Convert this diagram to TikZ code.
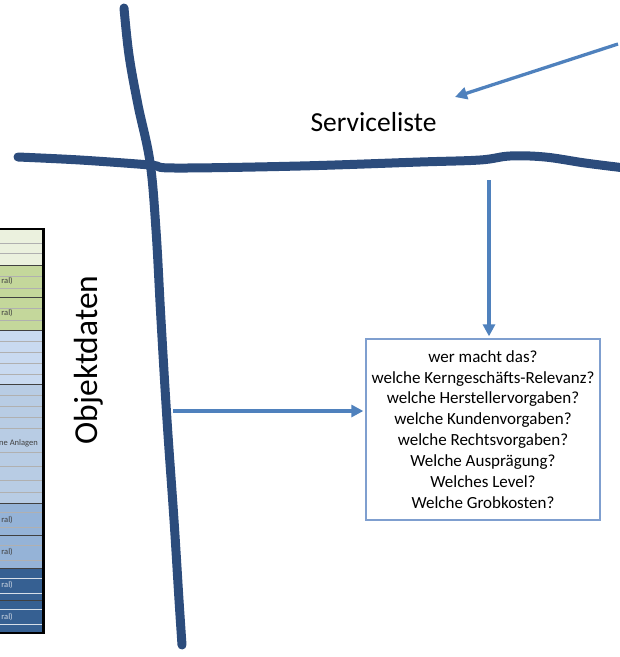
\documentclass[tikz,border=0pt]{standalone}
\usepackage{fontspec}
\setmainfont{Carlito}
\usetikzlibrary{arrows.meta}
\definecolor{pen}{HTML}{2C4C7C}
\definecolor{arrowblue}{HTML}{4F81BD}
\definecolor{boxline}{HTML}{7F9FCF}
\definecolor{cream}{HTML}{EBF1DE}
\definecolor{olive}{HTML}{C4D79B}
\definecolor{pale}{HTML}{C9DAF0}
\definecolor{paleb}{HTML}{B8CCE4}
\definecolor{midb}{HTML}{95B3D7}
\definecolor{darkb}{HTML}{366092}
\definecolor{grid}{HTML}{B0B0B0}
\tikzset{
  penline/.style={draw=pen,line width=9pt,line cap=round,line join=round},
  arr/.style={draw=arrowblue,line width=3.3pt,-{Triangle[length=12pt,width=12pt]}},
  qbox/.style={draw=boxline,line width=1.3pt,minimum width=234pt,minimum height=181pt,align=center,inner sep=0pt},
  cell/.style={font=\fontsize{8.5}{9}\selectfont,anchor=east,inner sep=0pt},
  gridline/.style={draw=grid,line width=0.6pt}
}
\begin{document}
\begin{tikzpicture}[x=1pt,y=-1pt]
\useasboundingbox (0,0) rectangle (620,657);
% ---- spreadsheet fragment on the left ----
\fill[cream] (0,229) rectangle (42,265);
\fill[olive] (0,265) rectangle (42,330);
\fill[pale] (0,330) rectangle (42,384);
\fill[paleb] (0,384) rectangle (42,503);
\fill[midb] (0,503) rectangle (42,568);
\fill[darkb] (0,568) rectangle (42,633);
\foreach \yy in {243,253,276,288,308,320,341,352,363,374,395,406,417,428,452,466,480,492,512,527,545,560}
  \draw[gridline] (0,\yy) -- (42,\yy);
\foreach \yy in {578,593,609,624}
  \draw[draw=white!80!darkb,line width=0.8pt] (0,\yy) -- (42,\yy);
\foreach \yy in {265,297,330,384,503,535,568,600}
  \draw[black!75,line width=0.8pt] (0,\yy) -- (42,\yy);
\draw[black,line width=1.2pt] (0,229) -- (43,229);
\draw[black,line width=1.2pt] (0,633) -- (43,633);
\draw[black,line width=3pt] (43,228) -- (43,634);
\node[cell,text=black!75] (r1) at (13,281) {ral)};
\node[cell,text=black!75] (r2) at (13,313) {ral)};
\node[cell,text=black!75] (r3) at (38,443) {ne Anlagen};
\node[cell,text=black!75] (r4) at (13,520) {ral)};
\node[cell,text=black!75] (r5) at (13,552) {ral)};
\node[cell,text=white!75!darkb] (r6) at (13,585) {ral)};
\node[cell,text=white!75!darkb] (r7) at (13,617) {ral)};
% ---- hand drawn axes ----
\draw[penline] plot[smooth,tension=0.6] coordinates {(124,8) (129,55) (138,105) (150,162) (156,230) (161,320) (167,420) (174,520) (179,600) (182,645)};
\draw[penline] plot[smooth,tension=0.6] coordinates {(18,157) (80,160) (150,165) (175,168) (300,166) (420,162) (480,160) (510,156) (545,157) (585,163) (625,168)};
% ---- labels ----
\node[font=\fontsize{27.5}{30}\selectfont,anchor=base] (sl) at (373.5,131) {Serviceliste};
\node[font=\fontsize{33.5}{36}\selectfont,rotate=90,anchor=base] (od) at (97,360) {Objektdaten};
% ---- question box ----
\node[qbox,font=\fontsize{17}{20.9}\selectfont] (q) at (483,429.5) {wer macht das?\\welche Kerngeschäfts-Relevanz?\\welche Herstellervorgaben?\\welche Kundenvorgaben?\\welche Rechtsvorgaben?\\Welche Ausprägung?\\Welches Level?\\Welche Grobkosten?};
% ---- arrows ----
\coordinate (a0) at (618,44);
\coordinate (a1) at (455,97);
\coordinate (v0) at (489,180);
\coordinate (h0) at (173,411);
\draw[arr] (a0) -- (a1);
\draw[arr] (v0) -- ([yshift=2pt]q.north -| v0);
\draw[arr] (h0) -- ([xshift=-2pt]q.west |- h0);
\end{tikzpicture}
\end{document}
